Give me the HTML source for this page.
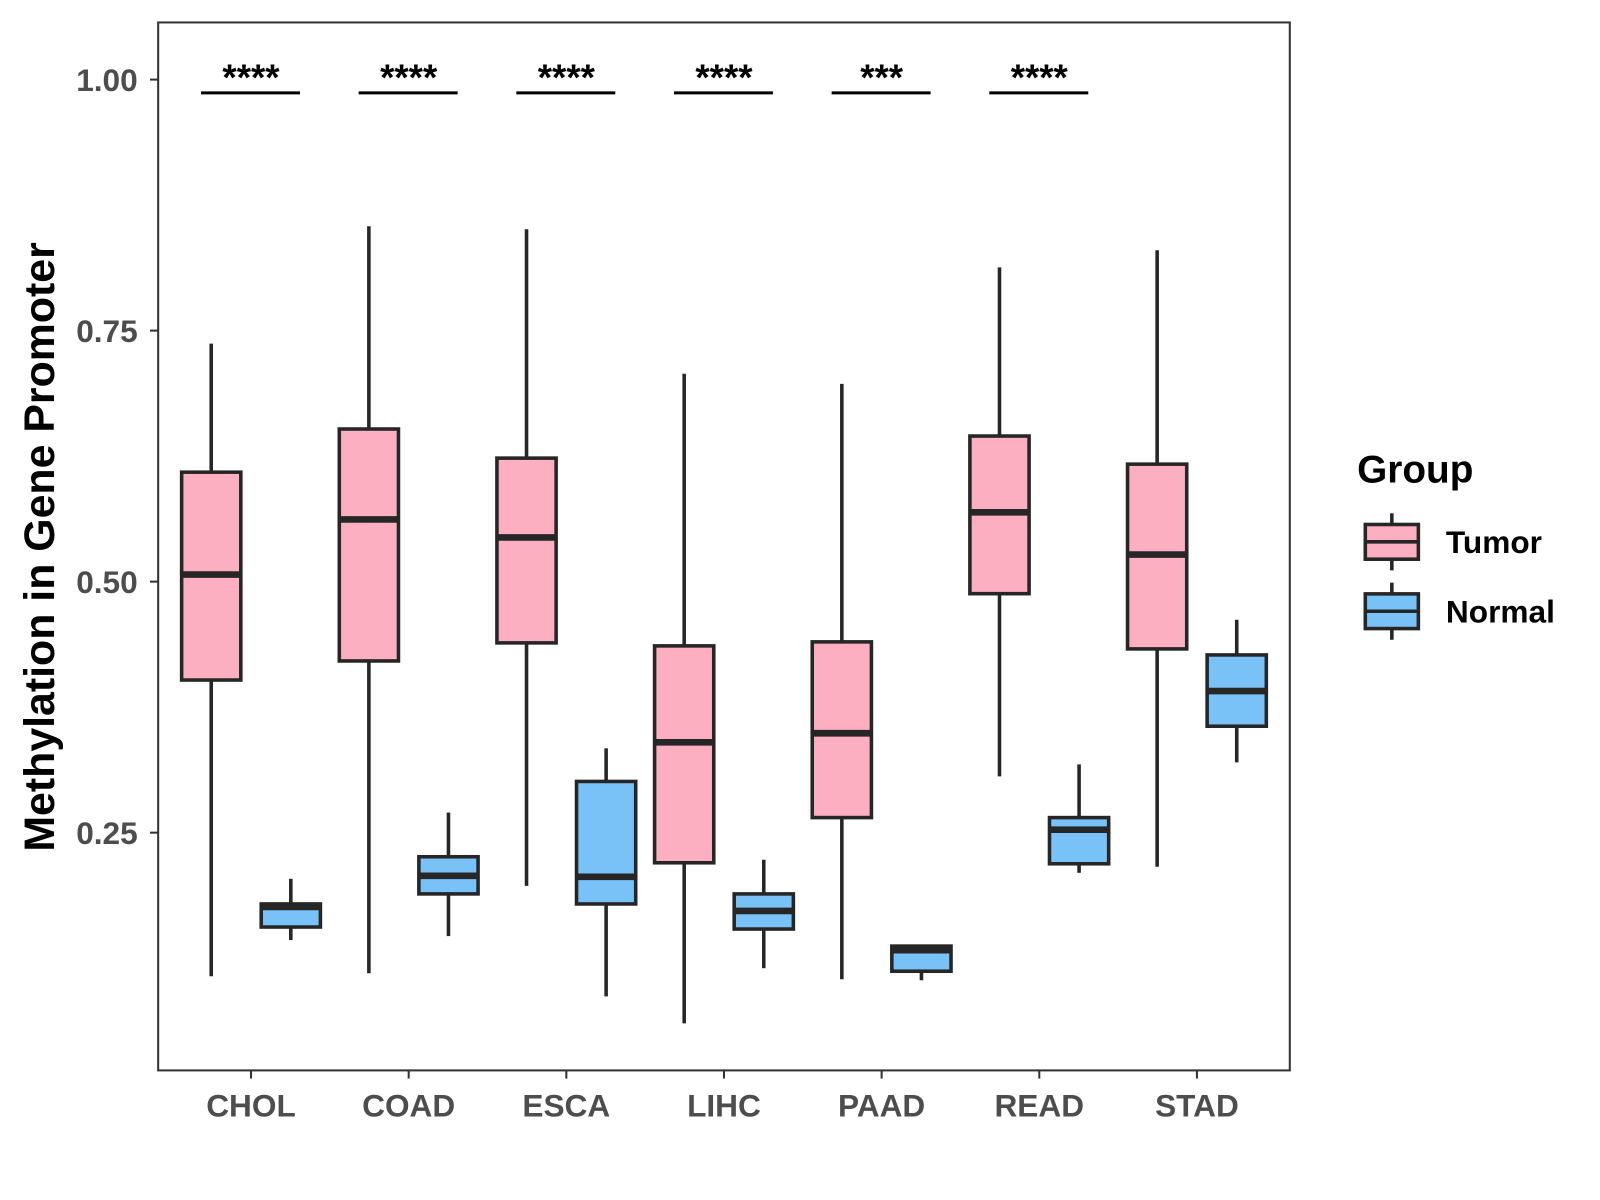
<!DOCTYPE html>
<html><head><meta charset="utf-8"><style>html,body{margin:0;padding:0;background:#fff}svg{display:block}</style></head>
<body>
<svg id="chart" width="1600" height="1200" viewBox="0 0 1568 1176" xmlns="http://www.w3.org/2000/svg" font-family="Liberation Sans, sans-serif">
<rect x="0" y="0" width="1568" height="1176" fill="#fff"/>
<g id="plot"></g>
<text transform="translate(53,536) rotate(-90)" text-anchor="middle" font-size="42" font-weight="bold" fill="#000">Methylation in Gene Promoter</text>
<g>
<text x="1330" y="473" font-size="38" font-weight="bold">Group</text>
<g>
<line x1="1364" y1="503" x2="1364" y2="559" stroke="#262626" stroke-width="3.5"/>
<rect x="1338" y="514" width="52" height="34" fill="#fbafc0" stroke="#262626" stroke-width="3.5"/>
<line x1="1338" y1="531" x2="1390" y2="531" stroke="#262626" stroke-width="3.5"/>
<text x="1417" y="542" font-size="31" font-weight="bold">Tumor</text></g>
<g>
<line x1="1364" y1="571" x2="1364" y2="627" stroke="#262626" stroke-width="3.5"/>
<rect x="1338" y="582" width="52" height="34" fill="#79c2f8" stroke="#262626" stroke-width="3.5"/>
<line x1="1338" y1="599" x2="1390" y2="599" stroke="#262626" stroke-width="3.5"/>
<text x="1417" y="610" font-size="31" font-weight="bold">Normal</text></g>
</g>
</svg>
<script>
const categories=["CHOL","COAD","ESCA","LIHC","PAAD","READ","STAD"];
// [min, q1, median, q3, max]
const tumorStats=[[0.107,0.402,0.507,0.609,0.737],[0.110,0.421,0.562,0.652,0.854],[0.197,0.439,0.544,0.623,0.851],[0.060,0.220,0.340,0.436,0.707],[0.104,0.265,0.349,0.440,0.697],[0.306,0.488,0.569,0.645,0.813],[0.216,0.433,0.527,0.617,0.830]];
const normalStats=[[0.143,0.156,0.176,0.179,0.204],[0.147,0.189,0.207,0.226,0.270],[0.087,0.179,0.206,0.301,0.334],[0.115,0.154,0.172,0.189,0.223],[0.103,0.112,0.133,0.137,0.137],[0.210,0.219,0.253,0.265,0.318],[0.320,0.356,0.391,0.427,0.462]];
const sigLabels=["****","****","****","****","***","****",""];
const yTicks=[0.25,0.50,0.75,1.00];
const yTickLabels=["0.25","0.50","0.75","1.00"];
const NS="http://www.w3.org/2000/svg";
const L=155,R=1264,T=22,B=1049;
function y(v){return 78+(1-v)*984;}
function x(i){return 246+i*154.5;}
function mk(tag,a,p){const e=document.createElementNS(NS,tag);for(const k in a)e.setAttribute(k,a[k]);p.appendChild(e);return e;}
const g=document.getElementById('plot');
const pf=mk('rect',{x:L,y:T,width:R-L,height:B-T,fill:'none',stroke:'#333',"stroke-width":2},g);


yTicks.forEach((t,i)=>{
 mk('line',{x1:L-8,x2:L,y1:y(t),y2:y(t),stroke:'#333',"stroke-width":2},g);
 const tx=mk('text',{x:L-20,y:y(t)+11,"text-anchor":"end","font-size":31,"font-weight":"bold",fill:"#4d4d4d"},g);
 tx.textContent=yTickLabels[i];
 
 
});
function box(s,cx,fill,name){
 const w=58;const gg=mk('g',{},g);
 
 
 mk('line',{x1:cx,x2:cx,y1:y(s[4]),y2:y(s[3]),stroke:'#262626',"stroke-width":3.5},gg);
 mk('line',{x1:cx,x2:cx,y1:y(s[1]),y2:y(s[0]),stroke:'#262626',"stroke-width":3.5},gg);
 mk('rect',{x:cx-w/2,y:y(s[3]),width:w,height:y(s[1])-y(s[3]),fill:fill,stroke:'#262626',"stroke-width":3.5},gg);
 mk('line',{x1:cx-w/2,x2:cx+w/2,y1:y(s[2]),y2:y(s[2]),stroke:'#262626',"stroke-width":6.5},gg);
}
categories.forEach((c,i)=>{
 const cx=x(i);
 mk('line',{x1:cx,x2:cx,y1:B,y2:B+8,stroke:'#333',"stroke-width":2},g);
 const tx=mk('text',{x:cx,y:B+45,"text-anchor":"middle","font-size":31,"font-weight":"bold",fill:"#4d4d4d"},g);
 tx.textContent=c;
 
 
 box(tumorStats[i],cx-39,'#fbafc0','box-tumor-'+c.toLowerCase());
 box(normalStats[i],cx+39,'#79c2f8','box-normal-'+c.toLowerCase());
 if(sigLabels[i]){
  const ln=mk('line',{x1:cx-49,x2:cx+48,y1:91,y2:91,stroke:'#000',"stroke-width":3},g);
  
  
  const st=mk('text',{x:cx,y:88,"text-anchor":"middle","font-size":36,"font-weight":"bold",fill:"#000"},g);
  st.textContent=sigLabels[i];
  
  
 }
});
</script>
</body></html>
